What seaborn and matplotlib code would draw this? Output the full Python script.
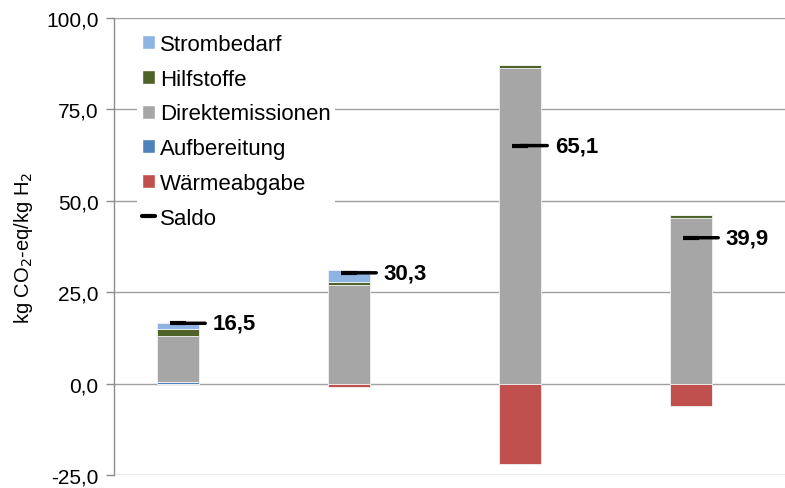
import matplotlib
matplotlib.use("Agg")
import matplotlib.pyplot as plt
import matplotlib.ticker as mticker
from matplotlib.lines import Line2D
from matplotlib.patches import Patch
import numpy as np
import pandas as pd
import seaborn as sns

# Werte (kg CO2-eq/kg H2), vier Verfahren
categories = ["A", "B", "C", "D"]
aufbereitung = [0.4, 0.0, 0.0, 0.0]
direktemissionen = [12.5, 27.0, 86.2, 45.4]
hilfstoffe = [1.9, 0.8, 1.0, 0.6]
strombedarf = [1.7, 3.3, 0.0, 0.0]
waermeabgabe = [0.0, -0.8, -22.1, -6.1]
saldo = [16.5, 30.3, 65.1, 39.9]

yticks = [-25, 0, 25, 50, 75, 100]

colors = {
    "Strombedarf": "#8DB4E2",
    "Hilfstoffe": "#4F6228",
    "Direktemissionen": "#A6A6A6",
    "Aufbereitung": "#4F81BD",
    "Wärmeabgabe": "#C0504D",
}

sns.set_style("white")
plt.rcParams["font.family"] = ["Liberation Sans", "DejaVu Sans"]
plt.rcParams["text.color"] = "black"
plt.rcParams["axes.labelcolor"] = "black"
plt.rcParams["ytick.labelcolor"] = "black"

fig = plt.figure(figsize=(7.85, 4.89), dpi=100)
ax = fig.add_axes([114 / 785, 1 - 476 / 489, 671 / 785, 457 / 489])

df = pd.DataFrame({
    "cat": categories,
    "Aufbereitung": aufbereitung,
    "Direktemissionen": direktemissionen,
    "Hilfstoffe": hilfstoffe,
    "Strombedarf": strombedarf,
    "Wärmeabgabe": waermeabgabe,
})

bar_w = 0.25
bottom = np.zeros(len(categories))
for layer in ["Aufbereitung", "Direktemissionen", "Hilfstoffe", "Strombedarf"]:
    sns.barplot(data=df, x="cat", y=layer, bottom=bottom, color=colors[layer],
                width=bar_w, errorbar=None, edgecolor="#F2F2F2", linewidth=0.6,
                saturation=1, ax=ax, zorder=3)
    bottom = bottom + df[layer].to_numpy()
sns.barplot(data=df, x="cat", y="Wärmeabgabe", color=colors["Wärmeabgabe"],
            width=bar_w, errorbar=None, edgecolor="#F2F2F2", linewidth=0.6,
            saturation=1, ax=ax, zorder=3)

xpos = np.arange(len(categories))
ax.plot(xpos, saldo, linestyle="none", marker="_", markersize=12,
        markeredgewidth=3, color="black", zorder=5)
for x, v in zip(xpos, saldo):
    ax.annotate(f"{v:.1f}".replace(".", ","), xy=(x, v), xytext=(25, 0),
                textcoords="offset points", va="center", ha="left",
                fontsize=16, fontweight="bold", color="black", zorder=6,
                arrowprops=dict(arrowstyle="-", lw=2.5, color="black",
                                shrinkA=3, shrinkB=0))

ax.set_xlim(-0.374, 3.55)
ax.set_ylim(-25, 100)
ax.set_yticks(yticks)
ax.yaxis.set_major_formatter(
    mticker.FuncFormatter(lambda v, p: f"{v:.1f}".replace(".", ",")))
ax.set_xticks([])
ax.set_xlabel("")
ax.set_ylabel("kg CO$_2$-eq/kg H$_2$", fontsize=14.5, labelpad=8)
ax.tick_params(axis="y", direction="out", length=6, width=1, color="#8C8C8C",
               labelsize=15, left=True, pad=5)
ax.grid(axis="y", color="#A0A0A0", linewidth=1, zorder=0)
ax.set_axisbelow(True)
for side in ["top", "right", "bottom"]:
    ax.spines[side].set_visible(False)
ax.spines["left"].set_color("#8C8C8C")
ax.spines["left"].set_linewidth(1)

handles = [Patch(facecolor=colors[k], label=k) for k in
           ["Strombedarf", "Hilfstoffe", "Direktemissionen", "Aufbereitung", "Wärmeabgabe"]]
handles.append(Line2D([], [], color="black", lw=3, label="Saldo"))
leg = ax.legend(handles=handles, loc="upper left", bbox_to_anchor=(0.035, 0.975),
                frameon=True, fontsize=16, handlelength=0.6, handleheight=0.6,
                handletextpad=0.2, labelspacing=0.62, borderpad=0.2,
                borderaxespad=0)
leg.get_frame().set_facecolor("white")
leg.get_frame().set_edgecolor("none")
leg.get_frame().set_alpha(1)
leg.set_zorder(4)

fig.savefig("out.png", dpi=100)
